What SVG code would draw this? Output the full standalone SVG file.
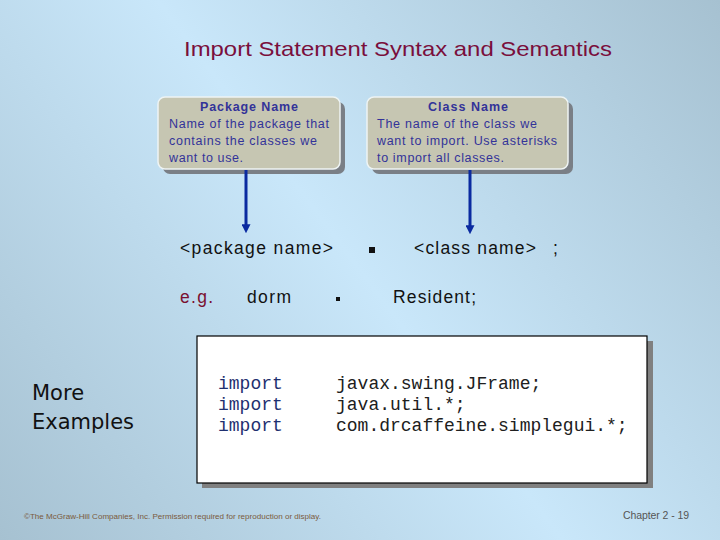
<svg xmlns="http://www.w3.org/2000/svg" width="720" height="540" viewBox="0 0 720 540">
<defs>
<linearGradient id="bg" gradientUnits="userSpaceOnUse" x1="720" y1="0" x2="0" y2="540">
<stop offset="0" stop-color="#a6c1d1"/>
<stop offset="0.5" stop-color="#c9e7fa"/>
<stop offset="1" stop-color="#a6c1d1"/>
</linearGradient>
<marker id="ah" markerWidth="3" markerHeight="3" refX="1.6" refY="1.5" orient="auto" markerUnits="strokeWidth">
<path d="M0,0 L3,1.5 L0,3 Z" fill="#0a2aa0"/>
</marker>
<style>
.callout{fill:#c6c6b2;stroke:#eef4f4;stroke-width:1.5}
.cshadow{fill:#7a7f86}
.ct{font-family:"Liberation Sans",Arial,sans-serif;font-size:12.5px;fill:#333399}
.ctb{font-weight:bold;text-anchor:middle}
.syn{font-family:"Liberation Sans",Arial,sans-serif;font-size:17.5px;fill:#111}
.code{font-family:"Liberation Mono","Courier New",monospace;font-size:18px;fill:#202020}
.kw{fill:#1f3070}
.conn{stroke:#0a2aa0;stroke-width:3;fill:none}
</style>
</defs>
<rect x="0" y="0" width="720" height="540" fill="url(#bg)"/>
<text x="184" y="56" font-family="Liberation Sans,Arial,sans-serif" font-size="21" fill="#7a0f3c" textLength="428" lengthAdjust="spacingAndGlyphs">Import Statement Syntax and Semantics</text>

<g id="package-name">
<rect class="cshadow" x="163" y="102" width="182" height="72" rx="7"/>
<rect class="callout" x="158" y="97" width="182" height="72" rx="7"/>
<text class="ct ctb" x="249" y="111" textLength="98" lengthAdjust="spacing">Package Name</text>
<text class="ct" x="169" y="128" textLength="160" lengthAdjust="spacing">Name of the package that</text>
<text class="ct" x="169" y="145" textLength="148" lengthAdjust="spacing">contains the classes we</text>
<text class="ct" x="169" y="162" textLength="74" lengthAdjust="spacing">want to use.</text>
</g>

<g id="class-name">
<rect class="cshadow" x="372" y="102" width="201" height="72" rx="7"/>
<rect class="callout" x="367" y="97" width="201" height="72" rx="7"/>
<text class="ct ctb" x="468" y="111" textLength="80" lengthAdjust="spacing">Class Name</text>
<text class="ct" x="377" y="128" textLength="160" lengthAdjust="spacing">The name of the class we</text>
<text class="ct" x="377" y="145" textLength="180" lengthAdjust="spacing">want to import. Use asterisks</text>
<text class="ct" x="377" y="162" textLength="127" lengthAdjust="spacing">to import all classes.</text>
</g>

<g id="connectors">
<line class="conn" x1="246" y1="170" x2="246" y2="229" marker-end="url(#ah)"/>
<line class="conn" x1="470" y1="170" x2="470" y2="230" marker-end="url(#ah)"/>
</g>

<g id="syntax">
<text class="syn" x="180" y="254" textLength="153" lengthAdjust="spacing">&lt;package name&gt;</text>
<rect x="369" y="247" width="6" height="6" fill="#111"/>
<text class="syn" x="414" y="254" textLength="122" lengthAdjust="spacing">&lt;class name&gt;</text>
<text class="syn" x="553" y="254">;</text>
</g>

<g id="example">
<text class="syn" x="180" y="303" style="fill:#7a1030" textLength="33" lengthAdjust="spacing">e.g.</text>
<text class="syn" x="247" y="303" textLength="44" lengthAdjust="spacing">dorm</text>
<rect x="336" y="297" width="4" height="4" fill="#111"/>
<text class="syn" x="393" y="303" textLength="83" lengthAdjust="spacing">Resident;</text>
</g>

<g id="more-examples">
<text x="32" y="400" font-family="DejaVu Sans,sans-serif" font-size="21" fill="#111">More</text>
<text x="32" y="429" font-family="DejaVu Sans,sans-serif" font-size="21" fill="#111">Examples</text>
</g>

<g id="code-box">
<rect x="202" y="341" width="451" height="147" fill="#808080"/>
<rect x="197" y="336" width="450" height="147" fill="#ffffff" stroke="#000" stroke-width="1.2"/>
<text class="code kw" x="218" y="389">import</text>
<text class="code kw" x="218" y="410">import</text>
<text class="code kw" x="218" y="431">import</text>
<text class="code" x="336" y="389">javax.swing.JFrame;</text>
<text class="code" x="336" y="410">java.util.*;</text>
<text class="code" x="336" y="431">com.drcaffeine.simplegui.*;</text>
</g>

<text x="24" y="519" font-family="Liberation Sans,Arial,sans-serif" font-size="8" fill="#7a5a3c" textLength="297" lengthAdjust="spacingAndGlyphs">©The McGraw-Hill Companies, Inc. Permission required for reproduction or display.</text>
<text x="623" y="519" font-family="Liberation Sans,Arial,sans-serif" font-size="10.5" fill="#555" textLength="66" lengthAdjust="spacing">Chapter 2 -  19</text>
</svg>
